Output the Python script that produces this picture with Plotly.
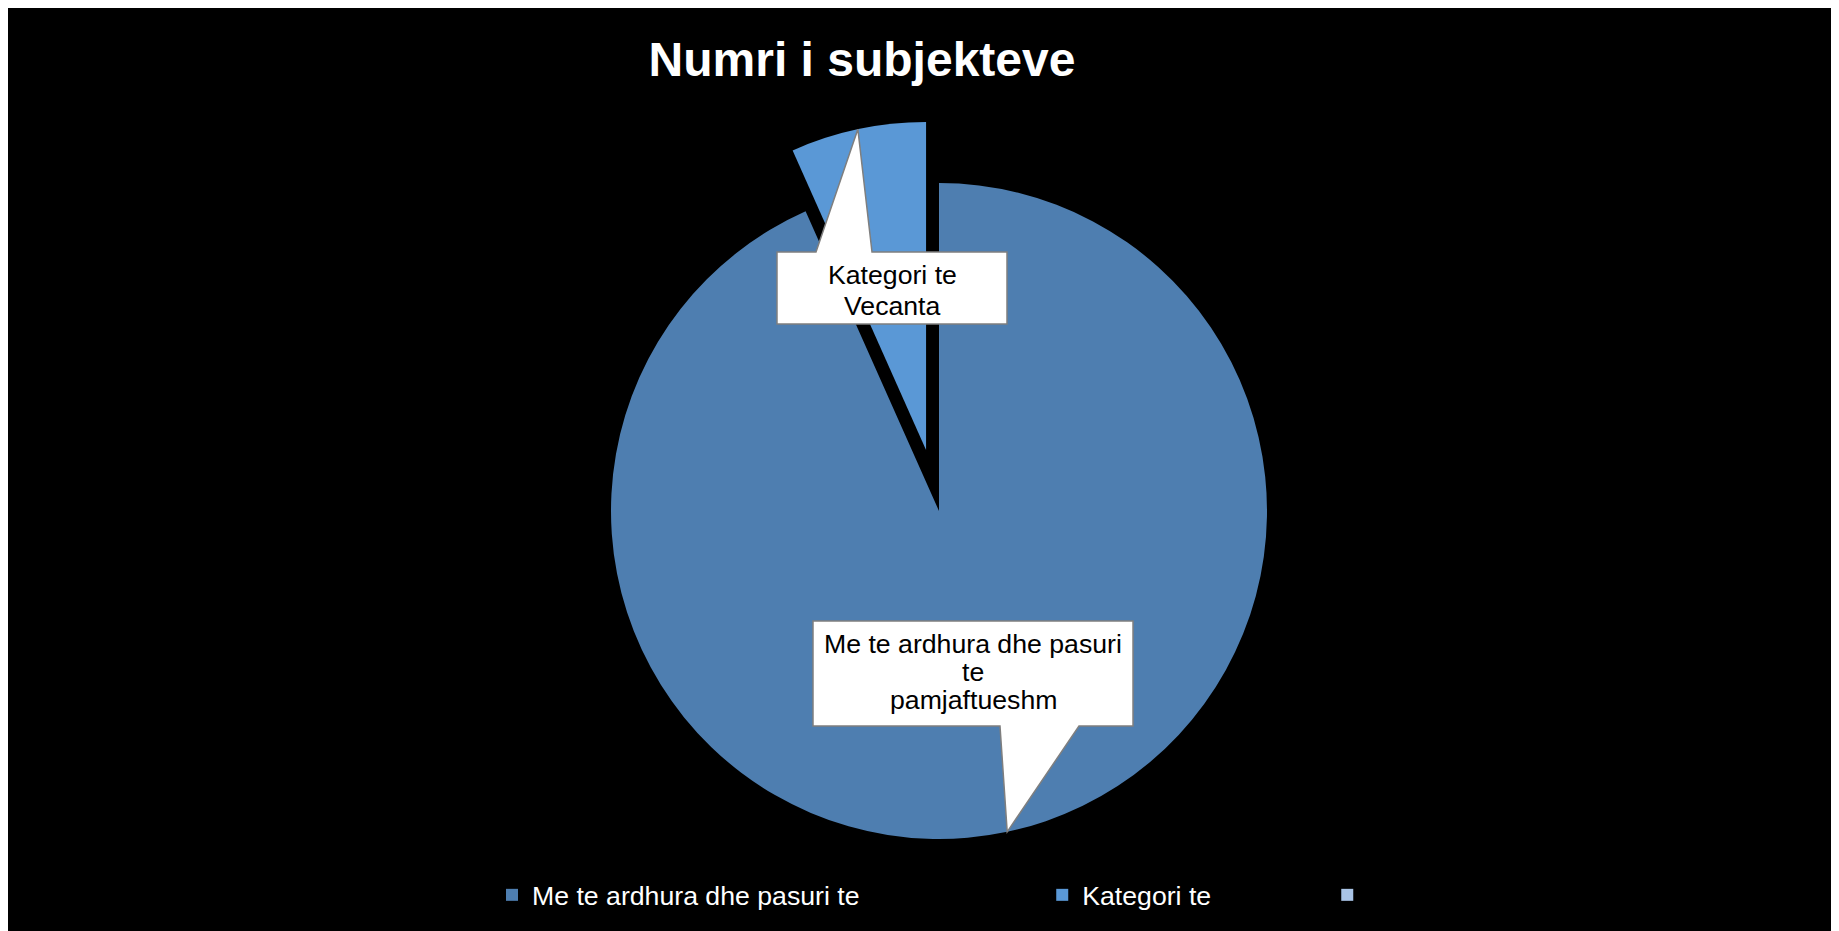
import math
import plotly.graph_objects as go

# chart data
labels = ["Me te ardhura dhe pasuri te", "Kategori te", "\u00a0"]
values = [14, 1, 0]
pulls = [0, 0.19, 0]
colors = ["#4E7EB0", "#5A98D6", "#A9C4E6"]
callout_lines = [["Me te ardhura dhe pasuri", "te", "pamjaftueshm"],
                 ["Kategori te", "Vecanta"]]
title = "Numri i subjekteve"

W, H = 1839, 931
OFF = 8  # page margin around the figure
FONT = "Liberation Sans, Arial, sans-serif"

# pie geometry (page pixels)
cx, cy, r = 939, 511, 328
half = r * (1 + max(pulls))


def px(x):
    return (x - OFF) / W


def py(y):
    return 1 - (y - OFF) / H


# legend labels padded so entries spread like the original
legend_pad = [24, 15, 0]
legend_labels = [lab + "\u00a0" * n for lab, n in zip(labels, legend_pad)]

pie = go.Pie(
    labels=legend_labels,
    values=values,
    pull=pulls,
    sort=False,
    direction="clockwise",
    rotation=0,
    textinfo="none",
    hoverinfo="label+value+percent",
    marker=dict(colors=colors, line=dict(width=0)),
    domain=dict(x=[px(cx - half), px(cx + half)],
                y=[py(cy + half), py(cy - half)]),
)

fig = go.Figure(data=[pie])

# slice mid angles (clockwise from 12 o'clock) -> callout tips
total = sum(values)
mids = []
acc = 0
for v in values:
    mids.append((acc + v / 2) / total * 2 * math.pi)
    acc += v


def tip(i):
    a = mids[i]
    rr = r * (1 + pulls[i])
    return cx + rr * math.sin(a), cy - rr * math.cos(a)


# callout boxes: (x0, y0, x1, y1, pointer base x0, x1, side, line gap)
boxes = [
    (813, 621, 1133, 726, 1000, 1079, "bottom", 28),
    (777, 252, 1007, 324, 816, 872, "top", 31),
]

shapes = []
annotations = []
for i, (x0, y0, x1, y1, b0, b1, side, gap) in enumerate(boxes):
    tx, ty = tip(i)
    if side == "top":
        pts = [(x0, y0), (b0, y0), (tx, ty), (b1, y0), (x1, y0), (x1, y1), (x0, y1)]
    else:
        pts = [(x0, y0), (x1, y0), (x1, y1), (b1, y1), (tx, ty), (b0, y1), (x0, y1)]
    path = "M " + " L ".join(f"{px(a):.5f},{py(b):.5f}" for a, b in pts) + " Z"
    shapes.append(dict(type="path", xref="paper", yref="paper", path=path,
                       fillcolor="white", line=dict(color="#7F7F7F", width=1.5),
                       layer="above"))
    lines = callout_lines[i]
    top = y0 + 23
    for k, t in enumerate(lines):
        annotations.append(dict(
            text=t, xref="paper", yref="paper",
            x=px((x0 + x1) / 2), y=py(top + k * gap),
            xanchor="center", yanchor="middle", showarrow=False,
            font=dict(family=FONT, size=26.67, color="black"),
        ))

fig.update_layout(
    width=W, height=H,
    paper_bgcolor="black",
    margin=dict(l=0, r=0, t=0, b=0, autoexpand=False),
    title=dict(text=title, x=px(862), xanchor="center",
               y=py(59), yanchor="middle", yref="container",
               font=dict(family=FONT, size=48, color="white", weight="bold")),
    showlegend=True,
    legend=dict(orientation="h", x=px(492), xanchor="left",
                y=py(895), yanchor="middle",
                font=dict(family=FONT, size=26.67, color="white"),
                bgcolor="rgba(0,0,0,0)", itemclick=False),
    shapes=shapes,
    annotations=annotations,
)

fig.write_html("out.html")
